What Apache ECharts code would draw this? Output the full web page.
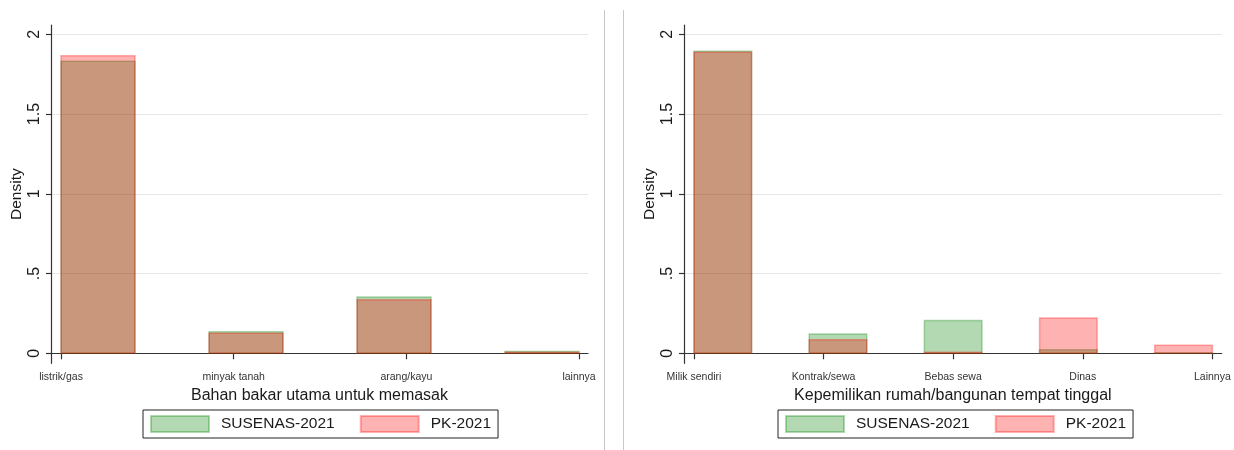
<!DOCTYPE html>
<html>
<head>
<meta charset="utf-8">
<title>Density: SUSENAS-2021 vs PK-2021</title>
<script src="https://cdn.jsdelivr.net/npm/echarts@6/dist/echarts.min.js"></script>
<style>
  html, body { margin: 0; padding: 0; background: #fff; }
  #chart { width: 1234px; height: 450px; }
</style>
</head>
<body>
<div id="chart"></div>
<script>
// Panel 1: main cooking fuel
const fuelCategories = ['listrik/gas', 'minyak tanah', 'arang/kayu', 'lainnya'];
const fuelSusenas = [1.830, 0.135, 0.353, 0.011];
const fuelPk = [1.866, 0.126, 0.335, 0.006];

// Panel 2: house ownership status
const houseCategories = ['Milik sendiri', 'Kontrak/sewa', 'Bebas sewa', 'Dinas', 'Lainnya'];
const houseSusenas = [1.893, 0.121, 0.205, 0.023, 0.004];
const housePk = [1.887, 0.085, 0.006, 0.221, 0.051];

// Density axis ticks
const yTicks = [0, 0.5, 1, 1.5, 2];
const yTickLabels = ['0', '.5', '1', '1.5', '2'];

const seriesNames = ['SUSENAS-2021', 'PK-2021'];
const FONT = '"Liberation Sans", Arial, Helvetica, sans-serif';
const GREEN = 'rgba(0,128,0,0.3)';
const RED = 'rgba(255,0,0,0.3)';

// Discrete histogram: categories coded 1..k, bin width (k-1)/(k-0.5), bars drawn at half the bin width
function binsFor(values) {
  const k = values.length;
  const w = (k - 1) / (k - 0.5);
  return values.map((v, i) => {
    const x0 = 1 + i * w;
    return [x0, x0 + w / 2, v];
  });
}

function histSeries(name, values, color, axisIndex) {
  return {
    type: 'custom',
    name: name,
    xAxisIndex: axisIndex,
    yAxisIndex: axisIndex,
    itemStyle: { color: color, borderColor: color, borderWidth: 1.5 },
    encode: { x: [0, 1], y: 2 },
    data: binsFor(values),
    renderItem: function (params, api) {
      const p0 = api.coord([api.value(0), 0]);
      const p1 = api.coord([api.value(1), api.value(2)]);
      return {
        type: 'rect',
        shape: { x: p0[0], y: p1[1], width: p1[0] - p0[0], height: p0[1] - p1[1] },
        style: { fill: color, stroke: color, lineWidth: 1.5 }
      };
    }
  };
}

function xAxisFor(cats, idx, title) {
  const k = cats.length;
  const ticks = cats.map((c, i) => i + 1);
  const pad = idx === 0 ? [0.058, 0.052] : [0.077, 0.072];
  return {
    type: 'value',
    gridIndex: idx,
    min: 1 - pad[0],
    max: k + pad[1],
    name: title,
    nameLocation: 'middle',
    nameGap: 19,
    nameTextStyle: { fontFamily: FONT, fontSize: 16, color: '#1a1a1a' },
    axisLine: { show: true, lineStyle: { color: '#333', width: 1.2 } },
    axisTick: { show: true, customValues: ticks, length: 6, lineStyle: { color: '#333', width: 1.2 } },
    axisLabel: {
      customValues: ticks,
      margin: 8,
      fontFamily: FONT,
      fontSize: 10.5,
      color: '#333',
      formatter: function (v) { return cats[Math.round(v) - 1]; }
    },
    splitLine: { show: false }
  };
}

function yAxisFor(idx) {
  return {
    type: 'value',
    gridIndex: idx,
    min: -0.0627,
    max: 2.058,
    name: 'Density',
    nameLocation: 'middle',
    nameRotate: 90,
    nameGap: 26,
    nameTextStyle: { fontFamily: FONT, fontSize: 15.5, color: '#1a1a1a' },
    axisLine: { show: true, lineStyle: { color: '#333', width: 1.2 } },
    axisTick: { show: true, customValues: yTicks, length: 5, lineStyle: { color: '#333', width: 1.2 } },
    axisLabel: {
      customValues: yTicks,
      rotate: 90,
      margin: 8,
      fontFamily: FONT,
      fontSize: 16,
      color: '#1a1a1a',
      formatter: function (v) {
        const i = yTicks.findIndex(t => Math.abs(t - v) < 1e-6);
        return i >= 0 ? yTickLabels[i] : '';
      }
    },
    splitLine: { show: true, lineStyle: { color: '#e6e6e6', width: 1 } }
  };
}

function legendFor(left) {
  return {
    data: seriesNames,
    left: left,
    top: 410,
    orient: 'horizontal',
    icon: 'rect',
    itemWidth: 58,
    itemHeight: 16,
    itemGap: 25,
    padding: [5, 7, 5, 7],
    borderColor: '#222',
    borderWidth: 1,
    borderRadius: 0,
    selectedMode: false,
    textStyle: { fontFamily: FONT, fontSize: 15.5, color: '#1a1a1a', padding: [0, 0, 0, 7] }
  };
}

const chart = echarts.init(document.getElementById('chart'), null, { renderer: 'canvas' });
chart.setOption({
  animation: false,
  backgroundColor: '#fff',
  grid: [
    { left: 51, right: 646, top: 25, bottom: 86.7 },
    { left: 684, right: 12.3, top: 25, bottom: 86.7 }
  ],
  xAxis: [
    xAxisFor(fuelCategories, 0, 'Bahan bakar utama untuk memasak'),
    xAxisFor(houseCategories, 1, 'Kepemilikan rumah/bangunan tempat tinggal')
  ],
  yAxis: [yAxisFor(0), yAxisFor(1)],
  legend: [legendFor(143), legendFor(778)],
  series: [
    histSeries(seriesNames[0], fuelSusenas, GREEN, 0),
    histSeries(seriesNames[1], fuelPk, RED, 0),
    histSeries(seriesNames[0], houseSusenas, GREEN, 1),
    histSeries(seriesNames[1], housePk, RED, 1)
  ],
  graphic: [
    { type: 'line', shape: { x1: 604.5, y1: 10, x2: 604.5, y2: 450 }, style: { stroke: '#c8c8c8', lineWidth: 1 } },
    { type: 'line', shape: { x1: 623.5, y1: 10, x2: 623.5, y2: 450 }, style: { stroke: '#c8c8c8', lineWidth: 1 } }
  ]
});
</script>
</body>
</html>
